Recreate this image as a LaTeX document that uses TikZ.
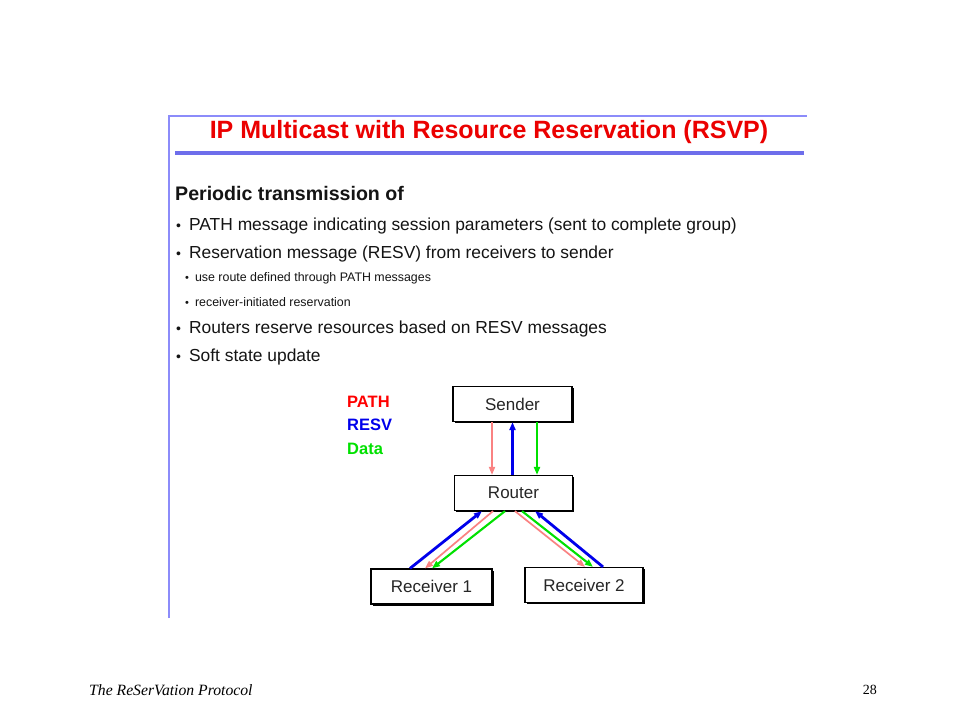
\documentclass[tikz,border=0pt]{standalone}
\usepackage{fontspec}
\setmainfont{Liberation Sans}
\newfontfamily\footfont{Liberation Serif}
\usetikzlibrary{arrows.meta,shadows}

\definecolor{framec}{RGB}{140,140,250}
\definecolor{rulec}{RGB}{110,110,235}
\definecolor{titlec}{RGB}{235,0,0}
\definecolor{pathc}{RGB}{250,130,130}
\definecolor{resvc}{RGB}{0,0,235}
\definecolor{datac}{RGB}{0,225,0}
\definecolor{bodyc}{RGB}{20,20,20}

\newcommand\blt{{\fontsize{14}{14}\selectfont\textbullet}\hspace{8pt}}
\newcommand\sblt{{\fontsize{11}{11}\selectfont\textbullet}\hspace{6pt}}

\tikzset{
  box/.style={draw, line width=1.2pt, fill=white, minimum height=35pt,
    font=\fontsize{17}{19}\selectfont, text=black!85,
    drop shadow={shadow xshift=1.6pt, shadow yshift=-1.6pt, fill=black, opacity=1}},
  tip/.style={-{Triangle[length=8pt,width=6pt]}},
  pathline/.style={tip, draw=pathc, line width=1.7pt},
  resvline/.style={tip, draw=resvc, line width=2.8pt},
  dataline/.style={tip, draw=datac, line width=2.1pt},
  item/.style={anchor=west, inner sep=0pt, text=bodyc, font=\fontsize{17.4}{20}\selectfont},
  subitem/.style={anchor=west, inner sep=0pt, text=bodyc, font=\fontsize{12.4}{15}\selectfont},
  legend/.style={anchor=west, inner sep=0pt, font=\bfseries\fontsize{16.5}{19}\selectfont}
}

\begin{document}
\begin{tikzpicture}[x=1pt,y=-1pt]

\useasboundingbox[fill=white] (0,0) rectangle (960,720);

% frame of the slide picture
\draw[framec, line width=2pt] (169,618) -- (169,116) -- (807,116);
\draw[rulec, line width=4pt] (175,153) -- (804,153);

\node[inner sep=0pt, text=titlec, font=\bfseries\fontsize{25}{28}\selectfont] (title) at (489,132)
  {IP Multicast with Resource Reservation (RSVP)};

\node[item, font=\bfseries\fontsize{19.6}{22}\selectfont] (head) at (175,193) {Periodic transmission of};
\node[item] (b1) at (176,226) {\blt PATH message indicating session parameters (sent to complete group)};
\node[item] (b2) at (176,254) {\blt Reservation message (RESV) from receivers to sender};
\node[subitem] (s1) at (185,278) {\sblt use route defined through PATH messages};
\node[subitem] (s2) at (185,302) {\sblt receiver-initiated reservation};
\node[item] (b3) at (176,329) {\blt Routers reserve resources based on RESV messages};
\node[item] (b4) at (176,357) {\blt Soft state update};

% legend
\node[legend, text=red] (lpath) at (347,402) {PATH};
\node[legend, text=resvc] (lresv) at (347,425) {RESV};
\node[legend, text=datac] (ldata) at (347,449) {Data};

% boxes
\node[box, minimum width=119pt] (sender) at (512.5,404) {Sender};
\node[box, minimum width=118pt] (router) at (513.5,493) {Router};
\node[box, minimum width=121pt] (rec1) at (431.5,586.5) {Receiver 1};
\node[box, minimum width=118pt] (rec2) at (584,585) {Receiver 2};

% sender -- router
\draw[pathline] ([xshift=-20.5pt]sender.south) -- ([xshift=-21.5pt]router.north);
\draw[resvline] (router.north -| sender.south) -- (sender.south);
\draw[dataline] ([xshift=24.5pt]sender.south) -- ([xshift=23.5pt]router.north);

% router -- receivers
\draw[resvline] ([xshift=-21.5pt]rec1.north) -- ([xshift=-31.5pt]router.south);
\draw[pathline] ([xshift=-20.5pt]router.south) -- ([xshift=-6.5pt]rec1.north);
\draw[dataline] ([xshift=-8.5pt]router.south) -- ([xshift=0.5pt]rec1.north);
\draw[pathline] ([xshift=1.5pt]router.south) -- ([xshift=1pt]rec2.north);
\draw[dataline] ([xshift=8.5pt]router.south) -- ([xshift=9pt]rec2.north);
\draw[resvline] ([xshift=19pt]rec2.north) -- ([xshift=21.5pt]router.south);

% footer
\node[anchor=west, inner sep=0pt, font=\footfont\itshape\fontsize{15.7}{18}\selectfont] (foot) at (89,690) {The ReSerVation Protocol};
\node[anchor=east, inner sep=0pt, font=\footfont\fontsize{14}{16}\selectfont] (page) at (877,690) {28};

\end{tikzpicture}
\end{document}
